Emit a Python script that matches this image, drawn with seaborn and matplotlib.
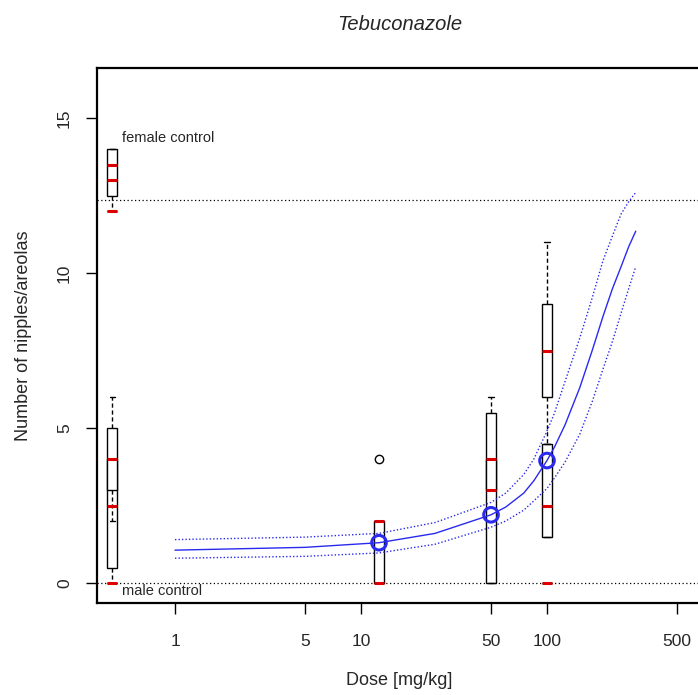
import numpy as np
import pandas as pd
import matplotlib
matplotlib.use("Agg")
import matplotlib.pyplot as plt
import seaborn as sns

sns.set_style("white")
plt.rcParams['font.family'] = ['Liberation Sans', 'DejaVu Sans']

# ---- data ----
CONTROL_X = 0.46  # pseudo-dose position of the control groups
female_ctrl_a = [12, 12.5, 13.5, 14, 14]
female_ctrl_b = [12, 12, 12]
female_ctrl_c = [13, 13, 13]
male_ctrl_a = [0, 0.5, 2.5, 5, 6]
male_ctrl_b = [2, 3, 4, 4, 4]
male_ctrl_c = [0, 0, 0]
dose12_a = [0, 0, 2, 2, 2]
dose12_b = [0, 0, 0, 0, 4]
dose50_a = [0, 0, 3, 5.5, 6]
dose50_b = [3, 3, 4, 4, 4]
dose100_a = [4.5, 6, 7.5, 9, 11]
dose100_b = [1.5, 1.5, 2.5, 4.5, 4.5]
dose100_c = [0, 0, 0]

mean_doses = [12.5, 50, 100]
mean_values = [1.3, 2.2, 3.95]

curve_doses = [1, 5, 12.5, 25, 50, 60, 75, 85, 100, 110, 125, 150, 175, 200, 225, 250, 275, 300]
curve_mid = [1.06, 1.15, 1.3, 1.6, 2.2, 2.45, 2.9, 3.3, 3.95, 4.4, 5.1, 6.3, 7.5, 8.6, 9.5, 10.2, 10.85, 11.35]
curve_upper = [1.4, 1.48, 1.6, 1.95, 2.6, 2.9, 3.5, 4.0, 4.9, 5.5, 6.5, 7.9, 9.2, 10.4, 11.2, 11.9, 12.3, 12.6]
curve_lower = [0.8, 0.86, 0.97, 1.25, 1.8, 2.0, 2.35, 2.65, 3.05, 3.4, 3.9, 4.8, 5.85, 6.9, 7.8, 8.7, 9.5, 10.2]

female_ref = 12.35
male_ref = 0.0

x_ticks = [1, 5, 10, 50, 100, 500]
y_ticks = [0, 5, 10, 15]

# ---- build long table ----
groups = [
    (CONTROL_X, "a", female_ctrl_a), (CONTROL_X, "b", female_ctrl_b), (CONTROL_X, "c", female_ctrl_c),
    (CONTROL_X, "d", male_ctrl_a), (CONTROL_X, "e", male_ctrl_b), (CONTROL_X, "f", male_ctrl_c),
    (12.5, "a", dose12_a), (12.5, "b", dose12_b),
    (50, "a", dose50_a), (50, "b", dose50_b),
    (100, "a", dose100_a), (100, "b", dose100_b), (100, "c", dose100_c),
]
rows = []
for d, s, vals in groups:
    for v in vals:
        rows.append({"dose": d, "sub": s, "count": v})
df = pd.DataFrame(rows)

fig = plt.figure(figsize=(6.98, 6.95), dpi=100)
ax = fig.add_axes([97/698, (695-603)/695, (702-97)/698, (603-68)/695])
ax.set_xscale("log")

subs = sorted(df["sub"].unique())
sns.boxplot(data=df, x="dose", y="count", hue="sub", hue_order=subs,
            native_scale=True, dodge=False, width=0.18, ax=ax,
            palette=["white"] * len(subs), linecolor="black", linewidth=1.0,
            legend=False, whis=1.5,
            medianprops={"color": "#dd0000", "linewidth": 2.2},
            whiskerprops={"linestyle": (0, (3, 2))},
            flierprops={"marker": "o", "markerfacecolor": "none",
                        "markeredgecolor": "black", "markersize": 6})

blue = "#2a2aee"
sns.lineplot(x=curve_doses, y=curve_mid, color=blue, linewidth=1.0, ax=ax)
sns.lineplot(x=curve_doses, y=curve_upper, color=blue, linewidth=1.0, linestyle=(0, (1, 1.5)), ax=ax)
sns.lineplot(x=curve_doses, y=curve_lower, color=blue, linewidth=1.0, linestyle=(0, (1, 1.5)), ax=ax)
sns.scatterplot(x=mean_doses, y=mean_values, marker="o", s=110, facecolor="none",
                edgecolor=blue, linewidth=2.2, ax=ax, zorder=5)

ax.axhline(female_ref, color="black", linestyle=(0, (1, 2)), linewidth=0.9, zorder=0.5)
ax.axhline(male_ref, color="black", linestyle=(0, (1, 2)), linewidth=0.9, zorder=0.5)

ax.text(0.52, 14.35, "female control", fontsize=10.5, va="center", ha="left")
ax.text(0.52, -0.25, "male control", fontsize=10.5, va="center", ha="left")

ax.set_xlim(10 ** (-78/186), 10 ** ((702-175)/186))
ax.set_ylim((583-603)/31, (583-68)/31)

ax.set_xticks(x_ticks)
ax.set_xticklabels([str(t) for t in x_ticks], fontsize=12.5)
ax.xaxis.set_minor_locator(matplotlib.ticker.NullLocator())
ax.set_yticks(y_ticks)
ax.set_yticklabels([str(t) for t in y_ticks], fontsize=12.5, rotation=90, va="center")
ax.tick_params(axis="x", direction="out", length=8, width=1.0, color="black",
               bottom=True, pad=14)
ax.tick_params(axis="y", direction="out", length=8, width=1.0, color="black",
               left=True, pad=10)

for sp in ax.spines.values():
    sp.set_linewidth(1.6)
    sp.set_color("black")

ax.set_xlabel("Dose [mg/kg]", fontsize=13, labelpad=17)
ax.set_ylabel("Number of nipples/areolas", fontsize=13, labelpad=18)
ax.set_title("Tebuconazole", fontsize=14.5, style="italic", pad=27)

fig.savefig("out.png", dpi=100)
